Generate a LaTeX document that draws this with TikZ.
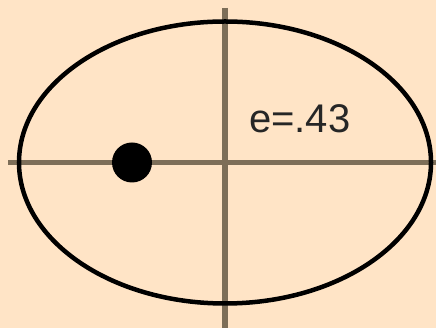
\documentclass[tikz,border=0pt]{standalone}
\usepackage{fontspec}
\setmainfont{Liberation Sans}
\definecolor{bg}{RGB}{255,228,198}
\definecolor{axiscol}{RGB}{125,110,88}
\begin{document}
\begin{tikzpicture}[x=1pt,y=1pt,
  axisline/.style={draw=axiscol,line width=5.5pt},
  orbit/.style={draw=black,line width=4.5pt},
  lbl/.style={font=\fontsize{40}{40}\selectfont,text=black!85,inner sep=0pt}]
\fill[bg] (0,0) rectangle (436,328);
\useasboundingbox (0,0) rectangle (436,328);
\coordinate (c) at (225,165.5);
\coordinate (hl) at (8,165.5);
\coordinate (hr) at (436,165.5);
\coordinate (vt) at (225,320);
\coordinate (vb) at (225,0);
\draw[axisline] (hl) -- (hr);
\draw[axisline] (vt) -- (vb);
\draw[orbit] (c) ellipse [x radius=206, y radius=141];
\node[circle,fill=black,minimum size=40pt,inner sep=0pt] (sun) at (132,165.5) {};
\node[lbl,anchor=base west] (e) at (249,195) {e=.43};
\end{tikzpicture}
\end{document}
